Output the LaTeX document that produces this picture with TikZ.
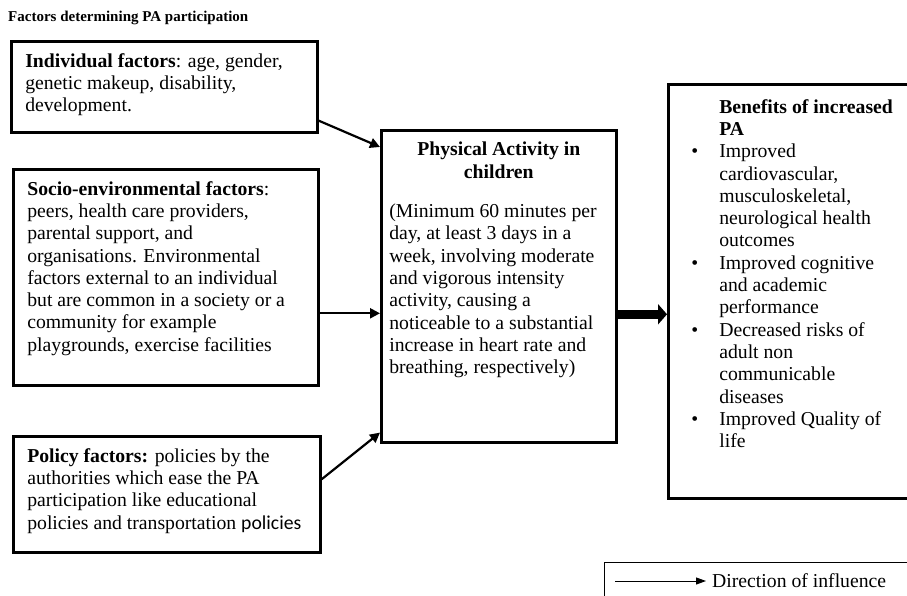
\documentclass[tikz,border=0pt]{standalone}
\usepackage{fontspec}
\setmainfont{Liberation Serif}
\newfontfamily\calibrifont{Carlito}
\usetikzlibrary{arrows.meta}

\newcommand{\benefititem}{\par\leavevmode\llap{\makebox[28pt][l]{\textbullet}}}

\tikzset{
  factorbox/.style={draw, line width=2.6pt, anchor=north west, inner xsep=14pt, inner ysep=12pt, font=\fontsize{19.7}{22.3}\selectfont},
  influence/.style={black, line width=2.2pt, -{Triangle[length=10pt,width=10pt]}},
  mainarrow/.style={black, line width=9pt, -{Triangle[length=9pt,width=20pt]}},
  keybox/.style={draw, line width=1.4pt, anchor=north west},
}

\begin{document}
\begin{tikzpicture}[x=1pt, y=-1pt]
\useasboundingbox (0,0) rectangle (907,596);

\node[anchor=base west, inner sep=0pt, font=\bfseries\fontsize{15}{17}\selectfont] (title) at (8,22) {Factors determining PA participation};

% factors on the left
\node[factorbox] (indiv) at (10,40) {\parbox[c][67pt][t]{278pt}{\raggedright
  \textbf{Individual factors}: age, gender,\\
  genetic makeup, disability,\\
  development.}};
\node[factorbox] (socio) at (12,168) {\parbox[c][192pt][t]{277pt}{\raggedright
  \textbf{Socio-environmental factors}:\\
  peers, health care providers,\\
  parental support, and\\
  organisations. Environmental\\
  factors external to an individual\\
  but are common in a society or a\\
  community for example\\
  playgrounds, exercise facilities}};
\node[factorbox] (policy) at (12,435) {\parbox[c][92pt][t]{279pt}{\raggedright
  \textbf{Policy factors:} policies by the\\
  authorities which ease the PA\\
  participation like educational\\
  policies and transportation {\calibrifont policies}}};

% central box
\node[factorbox, inner xsep=8pt] (activity) at (380,129) {\parbox[c][288pt][t]{219pt}{\centering
  \textbf{Physical Activity in\\ children}\par\vspace{17pt}\raggedright
  (Minimum 60 minutes per\\
  day, at least 3 days in a\\
  week, involving moderate\\
  and vigorous intensity\\
  activity, causing a\\
  noticeable to a substantial\\
  increase in heart rate and\\
  breathing, respectively)}};

% outcomes
\node[factorbox, inner xsep=23pt, inner ysep=15pt] (benefits) at (667,83) {\parbox[c][384pt][t]{230pt}{\raggedright\leftskip=28pt
  \textbf{Benefits of increased\\ PA}
  \benefititem Improved\\ cardiovascular,\\ musculoskeletal,\\ neurological health\\ outcomes
  \benefititem Improved cognitive\\ and academic\\ performance
  \benefititem Decreased risks of\\ adult non\\ communicable\\ diseases
  \benefititem Improved Quality of\\ life}};

\draw[influence] ([yshift=13pt]indiv.south east) -- ([yshift=-18pt]activity.north west);
\draw[influence] ([yshift=-36pt]socio.east) -- ([yshift=-36pt]socio.east -| activity.west);
\draw[influence] ([yshift=15pt]policy.east) -- ([yshift=11pt]activity.south west);
\draw[mainarrow] ([yshift=-28pt]activity.east) -- ([yshift=-28pt]activity.east -| benefits.west);

% legend
\node[keybox, minimum width=330pt, minimum height=50pt] (legend) at (604,562) {};
\coordinate (keystart) at (615,581);
\node[anchor=west, inner xsep=6pt, inner ysep=0pt, font=\fontsize{19.7}{22.3}\selectfont] (keytext) at (706,581) {Direction of influence};
\draw[black, line width=1pt, -{Triangle[length=10pt,width=7pt]}] (keystart) -- (keytext.west);
\end{tikzpicture}
\end{document}
